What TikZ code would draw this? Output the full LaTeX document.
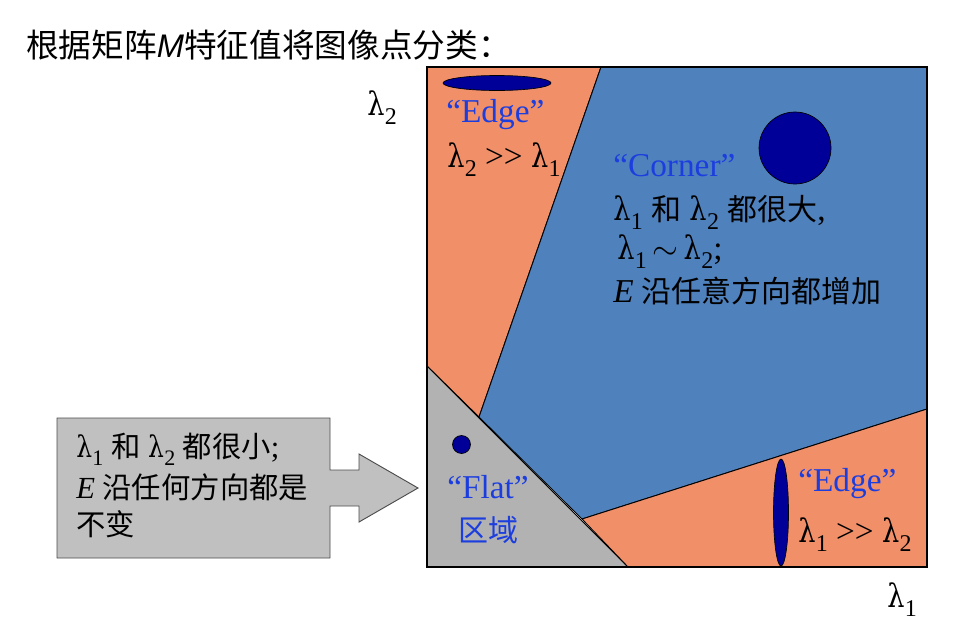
\documentclass[tikz,border=0pt]{standalone}
\usepackage{fontspec}
\usetikzlibrary{shapes.geometric}
\setmainfont{Liberation Serif}
\newfontfamily\cjk{Noto Sans CJK SC}
\newfontfamily\tsans{Liberation Sans}
\newfontfamily\lamfont[Scale=0.97]{DejaVu Serif}
\definecolor{orangeR}{RGB}{241,143,105}
\definecolor{blueR}{RGB}{79,129,189}
\definecolor{grayR}{RGB}{178,178,178}
\definecolor{calloutG}{RGB}{192,192,192}
\definecolor{darkB}{RGB}{0,0,153}
\definecolor{tblue}{RGB}{28,62,222}
\newcommand\lam[1]{\scalebox{0.84}[1]{\lamfont λ}\kern0.01em\raisebox{-0.28em}{\scalebox{0.72}{#1}}}
\newcommand\zh[1]{{\cjk\fontsize{22.5}{22.5}\selectfont #1}}
\newcommand\zhs[1]{{\cjk\fontsize{22}{22}\selectfont #1}}
\tikzset{
  region/.style={draw=black,line width=0.7pt,line join=round},
  txt/.style={inner sep=0pt,anchor=base west,font=\fontsize{25}{25}\selectfont},
  txtc/.style={inner sep=0pt,anchor=base,font=\fontsize{25}{25}\selectfont},
  ctxt/.style={inner sep=0pt,anchor=base west,font=\fontsize{23}{23}\selectfont},
  blob/.style={fill=darkB,draw=black,line width=0.5pt}
}
\begin{document}
\begin{tikzpicture}[x=0.75pt,y=-0.75pt]
\useasboundingbox (0,0) rectangle (963,626);
% regions
\path[region,fill=orangeR] (427,67) -- (601,67) -- (479,417) -- (427,366) -- cycle;
\path[region,fill=blueR] (601,67) -- (927,67) -- (927,409) -- (582,519) -- (479,417) -- cycle;
\path[region,fill=grayR] (427,366) -- (628,567) -- (427,567) -- cycle;
\path[region,fill=orangeR] (582,519) -- (927,409) -- (927,567) -- (628,567) -- cycle;
\draw[line width=1pt] (427,67) rectangle (927,567);
% blobs
\node[blob,ellipse,minimum width=108*0.75pt,minimum height=15*0.75pt,inner sep=0pt] (e1) at (497,83) {};
\node[blob,circle,minimum size=72*0.75pt,inner sep=0pt] (corner) at (795,148) {};
\node[blob,circle,minimum size=18*0.75pt,inner sep=0pt] (flat) at (461.5,444.5) {};
\node[blob,ellipse,minimum width=15*0.75pt,minimum height=107*0.75pt,inner sep=0pt] (e2) at (781,512.5) {};
% title
\node[inner sep=0pt,anchor=base west] (title) at (26,57) {\cjk\fontsize{24.5}{24.5}\selectfont 根据矩阵{\tsans\itshape M}特征值将图像点分类：};
% axis labels
\node[txt] (l2) at (367,115) {\lam{2}};
\node[txt] (l1) at (887,607) {\lam{1}};
% top edge
\node[txt,text=tblue] (edge1) at (446,122) {“Edge”};
\node[txt] (edge1b) at (447,167) {\lam{2} >{}> \lam{1}};
% corner
\node[txt,text=tblue] (c0) at (613,176) {“Corner”};
\node[txt] (c1) at (613,220) {\lam{1} \zh{和} \lam{2} \zh{都很大},};
\node[txt] (c2) at (617,259) {\lam{1}\,$\sim$\,\lam{2};};
\node[txt] (c3) at (613,302) {\textit{E} \zh{沿任意方向都增加}};
% bottom edge
\node[txt,text=tblue] (edge2) at (798,491) {“Edge”};
\node[txt] (edge2b) at (798,542) {\lam{1} >{}> \lam{2}};
% flat
\node[txtc,text=tblue] (flat1) at (488,498) {“Flat”};
\node[txtc,text=tblue] (flat2) at (488,541) {\zh{区域}};
% callout
\path[draw=black!70,line width=0.7pt,fill=calloutG] (57,418) -- (330,418) -- (330,470) -- (359,470) -- (359,454) -- (418,488) -- (359,522) -- (359,506) -- (330,506) -- (330,558) -- (57,558) -- cycle;
\node[ctxt] (s1) at (76,457) {\lam{1} \zhs{和} \lam{2} \zhs{都很小};};
\node[ctxt] (s2) at (76,498) {\textit{E} \zhs{沿任何方向都是}};
\node[ctxt] (s3) at (76,535) {\zhs{不变}};
\end{tikzpicture}
\end{document}
